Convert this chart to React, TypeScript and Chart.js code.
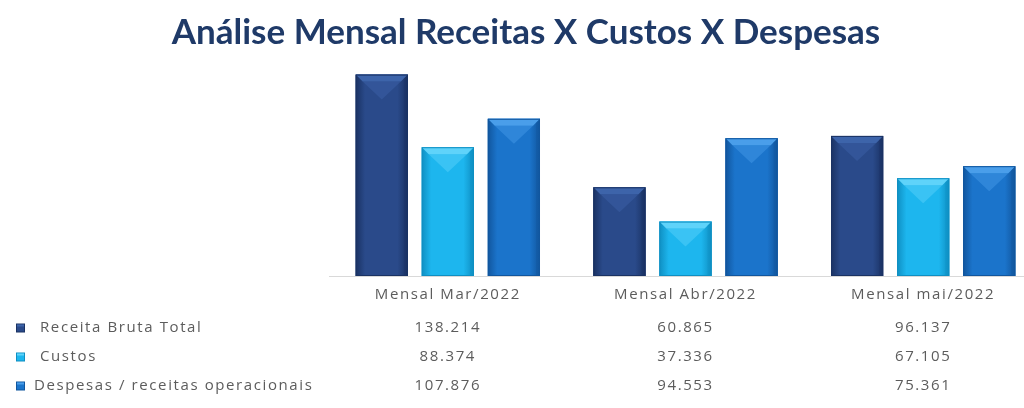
import React, { useEffect, useRef } from "react";
import { Chart, registerables } from "chart.js";

Chart.register(...registerables);

const categories = ["Mensal Mar/2022", "Mensal Abr/2022", "Mensal mai/2022"];
const seriesNames = ["Receita Bruta Total", "Custos", "Despesas / receitas operacionais"];
const receitaBruta = [138214, 60865, 96137];
const custos = [88374, 37336, 67105];
const despesas = [107876, 94553, 75361];
const titleText = "Análise Mensal Receitas X Custos X Despesas";

const mainColors = ["#2a4a8a", "#1db6ee", "#1b74cb"];
const lightColors = ["#3d64aa", "#5fd3fa", "#4a9eea"];
const darkColors = ["#1a3263", "#0f8fc2", "#11569e"];
const labelX = [40, 40, 34];

const TEXT = "#5c5c5c";
const FONT = "'Open Sans', 'Noto Sans', sans-serif";

function fmt(v: number): string {
  return String(v).replace(/\B(?=(\d{3})+(?!\d))/g, ".");
}

const bevelPlugin = {
  id: "bevelBars",
  afterDatasetsDraw(chart: any) {
    const ctx = chart.ctx;
    chart.data.datasets.forEach((ds: any, di: number) => {
      const meta = chart.getDatasetMeta(di);
      meta.data.forEach((el: any) => {
        const w = el.width;
        const l = el.x - w / 2;
        const r = el.x + w / 2;
        const t = el.y;
        const btm = el.base;
        const b = 7;
        ctx.save();
        const g = ctx.createLinearGradient(l, 0, r, 0);
        g.addColorStop(0, darkColors[di]);
        g.addColorStop(0.18, mainColors[di]);
        g.addColorStop(0.8, mainColors[di]);
        g.addColorStop(1, darkColors[di]);
        ctx.fillStyle = g;
        ctx.fillRect(l, t, w, btm - t);
        ctx.beginPath();
        ctx.moveTo(l + b, t + b);
        ctx.lineTo(r - b, t + b);
        ctx.lineTo(el.x, t + b + 18);
        ctx.closePath();
        ctx.globalAlpha = 0.45;
        ctx.fillStyle = lightColors[di];
        ctx.fill();
        ctx.globalAlpha = 1;
        ctx.beginPath();
        ctx.moveTo(l, t);
        ctx.lineTo(r, t);
        ctx.lineTo(r - b, t + b);
        ctx.lineTo(l + b, t + b);
        ctx.closePath();
        ctx.fillStyle = lightColors[di];
        ctx.fill();
        ctx.beginPath();
        ctx.moveTo(r, t);
        ctx.lineTo(r, btm);
        ctx.lineTo(r - 4, btm);
        ctx.lineTo(r - 4, t + 4);
        ctx.closePath();
        ctx.globalAlpha = 0.35;
        ctx.fillStyle = darkColors[di];
        ctx.fill();
        ctx.globalAlpha = 1;
        ctx.strokeStyle = darkColors[di];
        ctx.lineWidth = 1;
        ctx.strokeRect(l + 0.5, t + 0.5, w - 1, btm - t - 1);
        ctx.restore();
      });
    });
  },
};

const tablePlugin = {
  id: "dataTable",
  afterDraw(chart: any) {
    const ctx = chart.ctx;
    const xs = chart.scales.x;
    const base = chart.chartArea.bottom;
    ctx.save();
    ctx.font = "15px " + FONT;
    (ctx as any).letterSpacing = "1.6px";
    ctx.textBaseline = "middle";
    ctx.fillStyle = TEXT;
    ctx.textAlign = "center";
    chart.data.labels.forEach((lab: string, i: number) => {
      ctx.fillText(lab, xs.getPixelForValue(i), base + 19);
    });
    chart.data.datasets.forEach((ds: any, di: number) => {
      const y = base + 52 + di * 29;
      const kx = 16;
      const ks = 9;
      ctx.fillStyle = darkColors[di];
      ctx.fillRect(kx, y - ks / 2, ks, ks);
      ctx.fillStyle = mainColors[di];
      ctx.fillRect(kx + 1, y - ks / 2 + 1, ks - 2, ks - 2);
      ctx.fillStyle = lightColors[di];
      ctx.fillRect(kx + 1, y - ks / 2 + 1, ks - 2, 2);
      ctx.fillStyle = TEXT;
      ctx.textAlign = "left";
      ctx.fillText(ds.label, labelX[di], y);
      ctx.textAlign = "center";
      ds.data.forEach((v: number, i: number) => {
        ctx.fillText(fmt(v), xs.getPixelForValue(i), y);
      });
    });
    ctx.restore();
  },
};

export default function App() {
  const ref = useRef<HTMLCanvasElement | null>(null);
  useEffect(() => {
    if (!ref.current) return;
    const chart = new Chart(ref.current, {
      type: "bar",
      data: {
        labels: categories,
        datasets: [receitaBruta, custos, despesas].map((d, i) => ({
          label: seriesNames[i],
          data: d,
          backgroundColor: mainColors[i],
          borderWidth: 0,
          categoryPercentage: 0.834,
          barPercentage: 0.79,
        })),
      },
      options: {
        animation: false,
        responsive: true,
        maintainAspectRatio: false,
        layout: { padding: { left: 10, right: 14, top: 0, bottom: 0 } },
        plugins: {
          legend: { display: false },
          tooltip: { enabled: false },
          title: {
            display: true,
            text: titleText,
            color: "#1f3a68",
            font: { family: "Lato, 'Open Sans', sans-serif", size: 35, weight: "bold" },
            padding: { top: 12, bottom: 18 },
          },
        },
        scales: {
          x: {
            grid: { display: false, drawTicks: false },
            border: { display: true, color: "#d9d9d9", width: 1 },
            ticks: { display: false },
            afterFit: (s: any) => {
              s.height = 132;
            },
          },
          y: {
            min: 0,
            max: 140000,
            grid: { display: false },
            border: { display: false },
            ticks: { display: false },
            afterFit: (s: any) => {
              s.width = 319;
            },
          },
        },
      },
      plugins: [bevelPlugin, tablePlugin],
    });
    return () => chart.destroy();
  }, []);
  return (
    <div style={{ position: "absolute", left: 0, top: 0, width: 1024, height: 408, overflow: "hidden", background: "#fff" }}>
      <div style={{ position: "relative", width: 1056, height: 408 }}>
        <canvas ref={ref} />
      </div>
    </div>
  );
}
